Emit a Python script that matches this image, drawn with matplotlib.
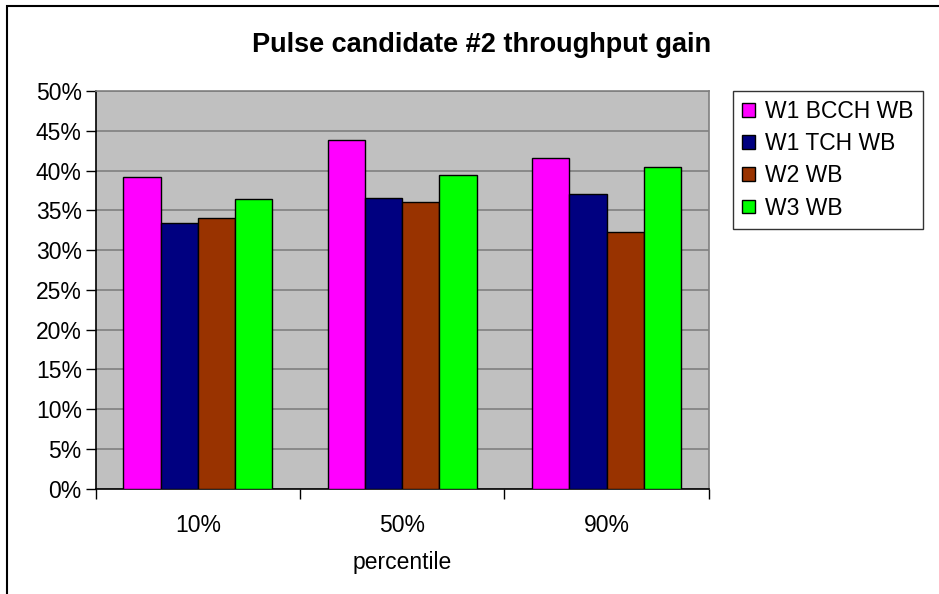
import matplotlib.pyplot as plt
import numpy as np
from matplotlib.patches import Rectangle

plt.rcParams['font.family'] = ['Liberation Sans', 'DejaVu Sans']

# percentile groups and series values (%)
categories = ['10%', '50%', '90%']
series_names = ['W1 BCCH WB', 'W1 TCH WB', 'W2 WB', 'W3 WB']
w1_bcch = [39.2, 43.9, 41.6]
w1_tch = [33.4, 36.6, 37.0]
w2 = [34.0, 36.0, 32.3]
w3 = [36.4, 39.5, 40.5]
colores = ['#FF00FF', '#000080', '#993300', '#00FF00']

fig = plt.figure(figsize=(9.39, 5.94), dpi=100)
ax = fig.add_axes([0.1019, 0.1773, 0.653, 0.6695])
ax.set_facecolor('#C0C0C0')

x = np.arange(len(categories))
ancho = 0.182
valores = [w1_bcch, w1_tch, w2, w3]
for i, (vals, nombre) in enumerate(zip(valores, series_names)):
    ax.bar(x + (i - 1.5) * ancho, vals, ancho, color=colores[i],
           edgecolor='black', linewidth=1, label=nombre, zorder=3)

ax.set_xlim(-0.5, 2.5)
ax.set_ylim(0, 50)
ax.set_yticks(np.arange(0, 51, 5))
ax.set_yticklabels([f'{v}%' for v in range(0, 51, 5)], fontsize=16.5)
ax.yaxis.grid(True, color='#808080', linewidth=1.2, zorder=1)

# category boundaries carry the ticks, labels sit in the middle
ax.set_xticks([-0.5, 0.5, 1.5, 2.5])
ax.set_xticklabels([])
ax.set_xticks(x, minor=True)
ax.set_xticklabels(categories, minor=True, fontsize=16.5)
ax.tick_params(axis='x', which='minor', length=0, pad=18)
ax.tick_params(axis='x', which='major', length=7, width=1)
ax.tick_params(axis='y', length=7, width=1, pad=3)
ax.set_xlabel('percentile', fontsize=16.5, labelpad=10)

for lado in ['top', 'right']:
    ax.spines[lado].set_color('#808080')
    ax.spines[lado].set_linewidth(1.2)
for lado in ['left', 'bottom']:
    ax.spines[lado].set_color('black')
    ax.spines[lado].set_linewidth(1.2)

fig.text(0.513, 0.924, 'Pulse candidate #2 throughput gain', ha='center',
         va='center', fontsize=19.5, fontweight='bold')

leg = fig.legend(loc='upper left', bbox_to_anchor=(0.7805, 0.847), fontsize=16.5,
                 frameon=True, fancybox=False, edgecolor='black',
                 handlelength=0.55, handleheight=0.55, handletextpad=0.45,
                 labelspacing=0.4, borderpad=0.4, borderaxespad=0)
leg.get_frame().set_linewidth(1)

# chart area border
fig.patches.append(Rectangle((7 / 939, -0.02), 1.1, 1.02 - 5.5 / 594,
                             transform=fig.transFigure, fill=False,
                             edgecolor='black', linewidth=1.5))

fig.savefig('out.png', dpi=100)
